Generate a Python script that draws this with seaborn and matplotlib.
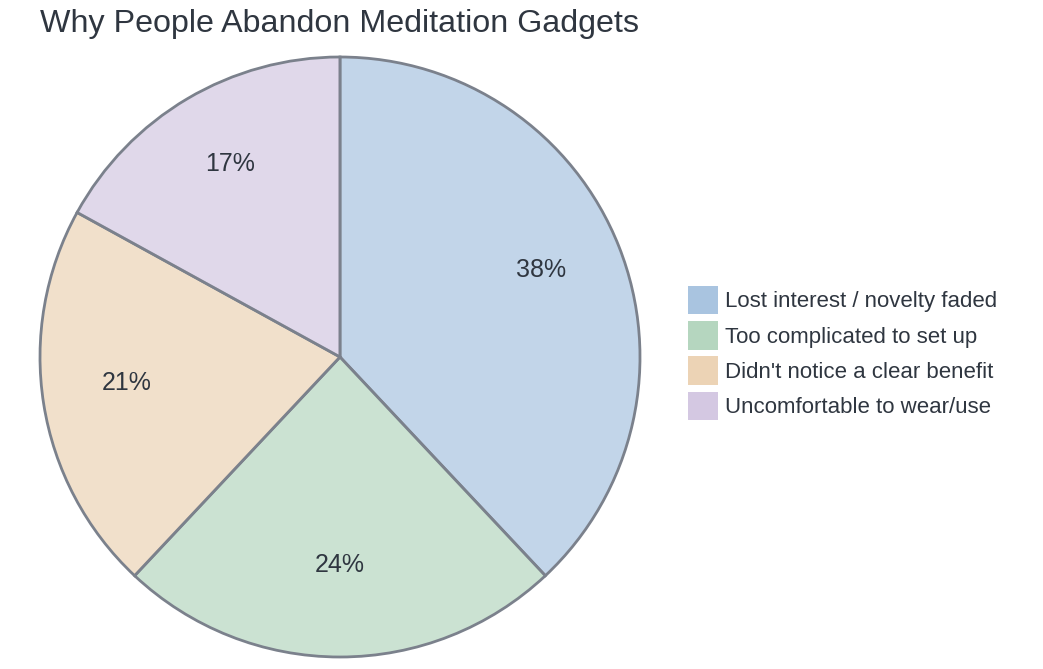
import matplotlib
matplotlib.use("Agg")
import matplotlib.pyplot as plt
from matplotlib.colors import to_rgba
from matplotlib.patches import Patch
import seaborn as sns

reasons = ["Lost interest / novelty faded", "Too complicated to set up",
           "Didn't notice a clear benefit", "Uncomfortable to wear/use"]
shares = [38, 24, 21, 17]
colors = ["#a9c4e0", "#b5d6bf", "#ecd3b5", "#d4c8e2"]

sns.set_theme(style="white")
plt.rcParams['font.family'] = ['Liberation Sans', 'DejaVu Sans']
text_color = "#2f3640"

fig = plt.figure(figsize=(10.43, 6.69), dpi=100)
ax = fig.add_axes([40 / 1043, 12 / 669, 600 / 1043, 600 / 669])

wedges, texts, autotexts = ax.pie(
    shares, colors=[to_rgba(c, 0.7) for c in colors], startangle=90, counterclock=False,
    autopct='%1.0f%%', pctdistance=0.72,
    wedgeprops=dict(edgecolor="#7b818c", linewidth=2),
    textprops=dict(color=text_color, fontsize=18))
for w in wedges:
    w.set_clip_on(False)
for t in autotexts:
    x, y = t.get_position()
    t.set_position((x, y + 0.025))
ax.set_aspect('auto')
ax.set_xlim(-1.0, 1.0)
ax.set_ylim(-1.0, 1.0)

handles = [Patch(facecolor=c, edgecolor='none') for c in colors]
fig.legend(handles, reasons, loc='center left', bbox_to_anchor=(668 / 1043, 1 - 353 / 669),
           frameon=False, fontsize=16, handlelength=1.35, handleheight=1.6,
           handletextpad=0.3, labelspacing=0.31, labelcolor=text_color)

fig.text(40 / 1043, 1 - 24 / 669, "Why People Abandon Meditation Gadgets",
         fontsize=23.2, color=text_color, va='center', ha='left')

fig.savefig("out.png", dpi=100)
